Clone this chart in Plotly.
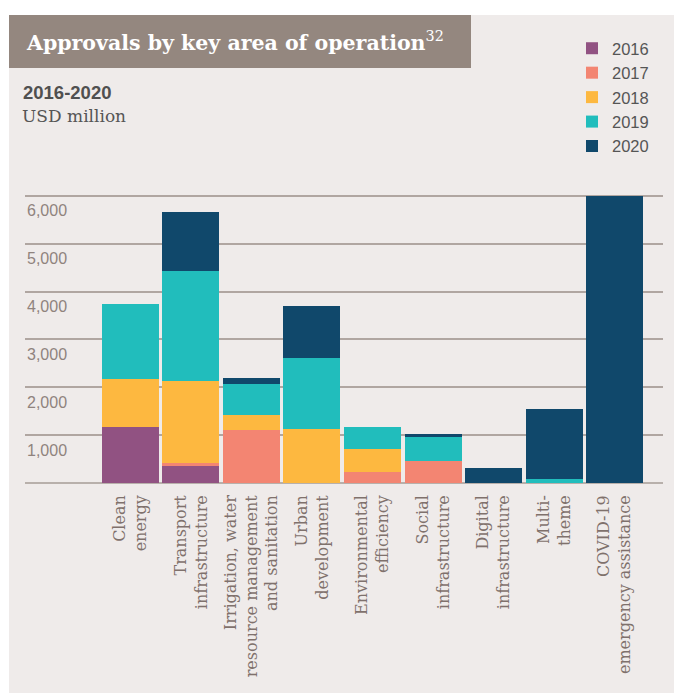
import plotly.graph_objects as go

# ---------------- data ----------------
categories = [
    "Clean<br>energy",
    "Transport<br>infrastructure",
    "Irrigation, water<br>resource management<br>and sanitation",
    "Urban<br>development",
    "Environmental<br>efficiency",
    "Social<br>infrastructure",
    "Digital<br>infrastructure",
    "Multi-<br>theme",
    "COVID-19<br>emergency assistance",
]
years = ["2016", "2017", "2018", "2019", "2020"]
v2016 = [1165, 349, 0, 0, 0, 0, 0, 0, 0]
v2017 = [0, 63, 1102, 0, 224, 454, 0, 0, 0]
v2018 = [1004, 1716, 314, 1123, 481, 0, 0, 0, 0]
v2019 = [1563, 2301, 648, 1486, 460, 502, 0, 77, 0]
v2020 = [0, 1234, 126, 1087, 0, 63, 308, 1465, 6000]
series = [v2016, v2017, v2018, v2019, v2020]
colors = ["#915282", "#f38572", "#fdb840", "#21bdbc", "#10486b"]
yticks = [1000, 2000, 3000, 4000, 5000, 6000]

# ---------------- layout geometry ----------------
W, H = 674, 693
ML, MR, MT, MB = 25, 11, 193, 210
PW, PH = W - ML - MR, H - MT - MB


def px_x(px):
    return (px - ML) / PW


def px_y(py):
    return (H - MB - py) / PH


fig = go.Figure()
for yr, vals, col in zip(years, series, colors):
    fig.add_trace(go.Bar(
        x=categories, y=vals, name=yr,
        marker=dict(color=col, line=dict(width=0)),
        hoverinfo="skip",
    ))

serif = "DejaVu Serif"
sans = "Liberation Sans"

shapes = [
    # panel background
    dict(type="rect", xref="paper", yref="paper",
         x0=px_x(9), x1=px_x(680), y0=px_y(15), y1=px_y(700),
         fillcolor="#efebea", line=dict(width=0), layer="below"),
    # title box
    dict(type="rect", xref="paper", yref="paper",
         x0=px_x(9), x1=px_x(471), y0=px_y(15), y1=px_y(68),
         fillcolor="#94877f", line=dict(width=0), layer="below"),
]

annotations = [
    dict(text="<b>Approvals by key area of operation</b><sup>32</sup>",
         xref="paper", yref="paper", x=px_x(24), y=px_y(41),
         xanchor="left", yanchor="middle", showarrow=False,
         font=dict(family=serif, size=20.5, color="white")),
    dict(text="<b>2016-2020</b>",
         xref="paper", yref="paper", x=px_x(21), y=px_y(92),
         xanchor="left", yanchor="middle", showarrow=False,
         font=dict(family=sans, size=18.5, color="#505050")),
    dict(text="USD million",
         xref="paper", yref="paper", x=px_x(20), y=px_y(116),
         xanchor="left", yanchor="middle", showarrow=False,
         font=dict(family=serif, size=17, color="#555555")),
]
for t in yticks:
    annotations.append(dict(
        text=f"{t:,}", xref="paper", yref="y", x=0, y=t,
        xanchor="left", yanchor="middle", yshift=-15, showarrow=False,
        font=dict(family=sans, size=16, color="#8f837e")))

fig.update_layout(
    width=W, height=H,
    margin=dict(l=ML, r=MR, t=MT, b=MB, pad=0),
    paper_bgcolor="white",
    plot_bgcolor="rgba(0,0,0,0)",
    barmode="stack",
    bargap=0.058,
    shapes=shapes,
    annotations=annotations,
    showlegend=True,
    legend=dict(
        x=px_x(572), y=px_y(31), xanchor="left", yanchor="top",
        bgcolor="rgba(0,0,0,0)", borderwidth=0,
        font=dict(family=sans, size=16.5, color="#555555"),
        traceorder="normal", tracegroupgap=0,
    ),
    xaxis=dict(
        range=[-1.742, 8.80], tickangle=-90,
        tickfont=dict(family=serif, size=16, color="#7f716c"),
        showgrid=False, showline=False, zeroline=False,
        ticks="", ticklabelstandoff=8,
    ),
    yaxis=dict(
        range=[0, 6060], dtick=1000, tick0=0,
        showgrid=True, gridcolor="#b0a6a1", gridwidth=1.5,
        zeroline=True, zerolinecolor="#b8b0ab", zerolinewidth=2,
        showticklabels=False, ticks="", showline=False,
    ),
)

fig.write_html("out.html", config={"displayModeBar": False},
               post_script="document.body.style.margin='0px';")
